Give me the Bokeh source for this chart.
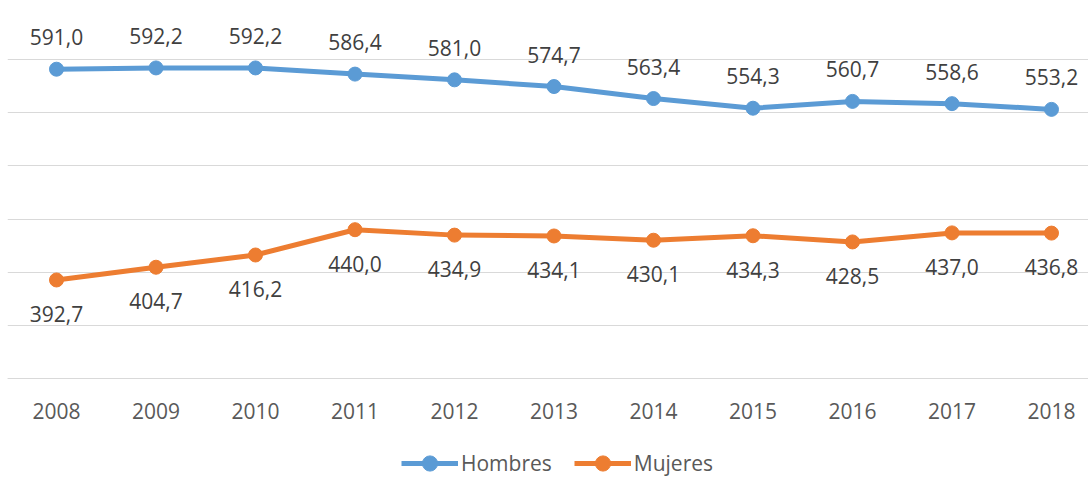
from bokeh.plotting import figure
from bokeh.models import ColumnDataSource, FixedTicker, Legend, LegendItem, Range1d
from bokeh.core.properties import value
from bokeh.embed import file_html
from bokeh.resources import INLINE

years = [2008, 2009, 2010, 2011, 2012, 2013, 2014, 2015, 2016, 2017, 2018]
hombres = [591.0, 592.2, 592.2, 586.4, 581.0, 574.7, 563.4, 554.3, 560.7, 558.6, 553.2]
mujeres = [392.7, 404.7, 416.2, 440.0, 434.9, 434.1, 430.1, 434.3, 428.5, 437.0, 436.8]
grid_values = [300, 350, 400, 450, 500, 550, 600, 650]

BLUE = "#5B9BD5"
ORANGE = "#ED7D31"
FONT = "Open Sans"

def fmt(v):
    return f"{v:.1f}".replace(".", ",")

src_h = ColumnDataSource(dict(x=years, y=hombres, t=[fmt(v) for v in hombres]))
src_m = ColumnDataSource(dict(x=years, y=mujeres, t=[fmt(v) for v in mujeres]))

# frame spans the whole lower area so the legend can sit inside it
p = figure(frame_width=1081, frame_height=471, output_backend="svg", toolbar_location=None,
           x_range=Range1d(2007.5075, 2018.3719), y_range=Range1d(206.86, 650),
           y_axis_location=None, min_border_left=7, min_border_right=0,
           min_border_top=6, min_border_bottom=0)
p.outline_line_color = None
p.background_fill_color = "white"
p.border_fill_color = "white"

p.xgrid.visible = False
p.ygrid.ticker = FixedTicker(ticks=grid_values)
p.ygrid.grid_line_color = "#D9D9D9"
p.ygrid.grid_line_width = 1

ax = p.xaxis[0]
ax.fixed_location = 300
ax.ticker = FixedTicker(ticks=years)
ax.axis_line_color = "#D9D9D9"
ax.major_tick_line_color = None
ax.minor_tick_line_color = None
ax.major_label_text_font = FONT
ax.major_label_text_font_size = "21px"
ax.major_label_text_color = "#595959"
ax.major_label_standoff = 18

lh = p.line("x", "y", source=src_h, line_color=BLUE, line_width=5)
sh = p.scatter("x", "y", source=src_h, size=14, fill_color=BLUE, line_color=BLUE)
lm = p.line("x", "y", source=src_m, line_color=ORANGE, line_width=5)
sm = p.scatter("x", "y", source=src_m, size=14, fill_color=ORANGE, line_color=ORANGE)

p.text("x", "y", text="t", source=src_h, y_offset=-32, text_align="center",
       text_baseline="middle", text_font=value(FONT), text_font_size="21px", text_color="#404040")
p.text("x", "y", text="t", source=src_m, y_offset=34, text_align="center",
       text_baseline="middle", text_font=value(FONT), text_font_size="21px", text_color="#404040")

legend = Legend(items=[LegendItem(label="Hombres", renderers=[lh, sh]),
                       LegendItem(label="Mujeres", renderers=[lm, sm])],
                location=(394, -5), orientation="horizontal",
                glyph_width=57, glyph_height=38, label_standoff=3, spacing=22,
                padding=0, margin=0, border_line_color=None, background_fill_alpha=0,
                label_text_font=FONT, label_text_font_size="21px", label_text_color="#595959")
p.add_layout(legend, "center")

open("out.html", "w").write(file_html(p, INLINE))
